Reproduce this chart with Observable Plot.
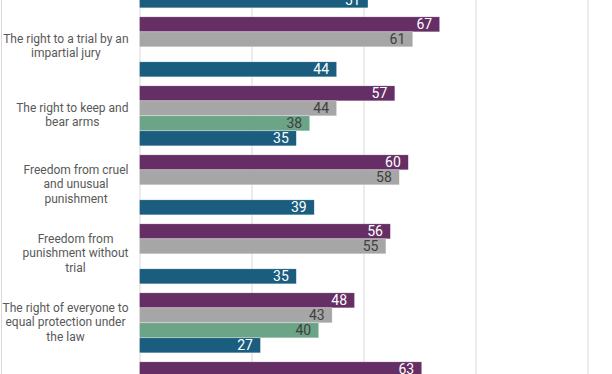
<!DOCTYPE html>
<html><head><meta charset="utf-8">
<script src="https://cdn.jsdelivr.net/npm/d3@7"></script>
<script src="https://cdn.jsdelivr.net/npm/@observablehq/plot@0.6"></script>
<style>
html,body{margin:0;padding:0;background:#fff;}
#wrap{position:relative;width:612px;height:374px;overflow:hidden;}
#edge{position:absolute;left:1px;top:0;width:1px;height:374px;background:#d9d9d9;}
</style></head><body>
<div id="wrap"><div id="chart"></div><div id="edge"></div></div>
<script>
const categories = [
  "Previous item",
  "The right to a trial by an impartial jury",
  "The right to keep and bear arms",
  "Freedom from cruel and unusual punishment",
  "Freedom from punishment without trial",
  "The right of everyone to equal protection under the law",
  "Next item"
];
const categoryLabels = [
  "",
  "The right to a trial by an\nimpartial jury",
  "The right to keep and\nbear arms",
  "Freedom from cruel\nand unusual\npunishment",
  "Freedom from\npunishment without\ntrial",
  "The right of everyone to\nequal protection under\nthe law",
  ""
];
const series = ["Series 1", "Series 2", "Series 3", "Series 4"];
const seriesColors = ["#652f65", "#a6a6a6", "#6ba486", "#1a5d7f"];
const labelColors = ["#ffffff", "#404040", "#404040", "#ffffff"];
const valuesS1 = [null, 67, 57, 60, 56, 48, 63];
const valuesS2 = [null, 61, 44, 58, 55, 43, null];
const valuesS3 = [null, null, 38, null, null, 40, null];
const valuesS4 = [51, 44, 35, 39, 35, 27, null];
const gridTicks = [0, 25, 50, 75, 100];

const allValues = [valuesS1, valuesS2, valuesS3, valuesS4];
const rows = [];
categories.forEach((c, i) => {
  series.forEach((s, j) => {
    const v = allValues[j][i];
    if (v != null) rows.push({category: c, series: s, value: v, labelColor: labelColors[j]});
  });
});

// category label blocks: right edge just left of the axis, lines centred within block
const marginLeft = 139.5;
const labelRight = 128;
const labelFont = "12px Roboto";
const ctx = document.createElement("canvas").getContext("2d");
ctx.font = labelFont;
const labelMarks = categories
  .map((c, i) => ({category: c, label: categoryLabels[i]}))
  .filter(d => d.label)
  .map(d => {
    const lines = d.label.split("\n");
    const w = Math.max(...lines.map(l => ctx.measureText(l).width));
    return Plot.text([d], {
      fy: "category", text: "label", frameAnchor: "left",
      dx: (labelRight - marginLeft) - w / 2, dy: -1.5, textAnchor: "middle",
      lineHeight: 1.2, fontSize: 12, fill: "#595959"
    });
  });

const chart = Plot.plot({
  width: 612,
  height: 374,
  marginLeft: marginLeft,
  marginRight: 24.5,
  marginTop: -57.85,
  marginBottom: -51.85,
  style: {fontFamily: "Roboto, sans-serif", background: "white"},
  x: {domain: [0, 100], axis: null},
  y: {domain: series, padding: 0, axis: null},
  fy: {domain: categories, paddingInner: 0.117, paddingOuter: 0.0585, axis: null, label: null},
  color: {domain: series, range: seriesColors},
  marks: [
    Plot.ruleX(gridTicks, {x: d => d, stroke: "#d9d9d9", strokeWidth: 1, insetTop: -4.2, insetBottom: -4.2}),
    Plot.barX(rows, {x: "value", y: "series", fy: "category", fill: "series", stroke: "white", strokeWidth: 0.5, strokeOpacity: 0.6}),
    Plot.text(rows.filter(d => d.labelColor === "#ffffff"), {x: "value", y: "series", fy: "category", text: d => String(d.value), textAnchor: "end", dx: -8, fontSize: 14, fill: "#ffffff"}),
    Plot.text(rows.filter(d => d.labelColor !== "#ffffff"), {x: "value", y: "series", fy: "category", text: d => String(d.value), textAnchor: "end", dx: -8, fontSize: 14, fill: "#404040"}),
    ...labelMarks
  ]
});
document.getElementById("chart").appendChild(chart);
</script>
</body></html>
